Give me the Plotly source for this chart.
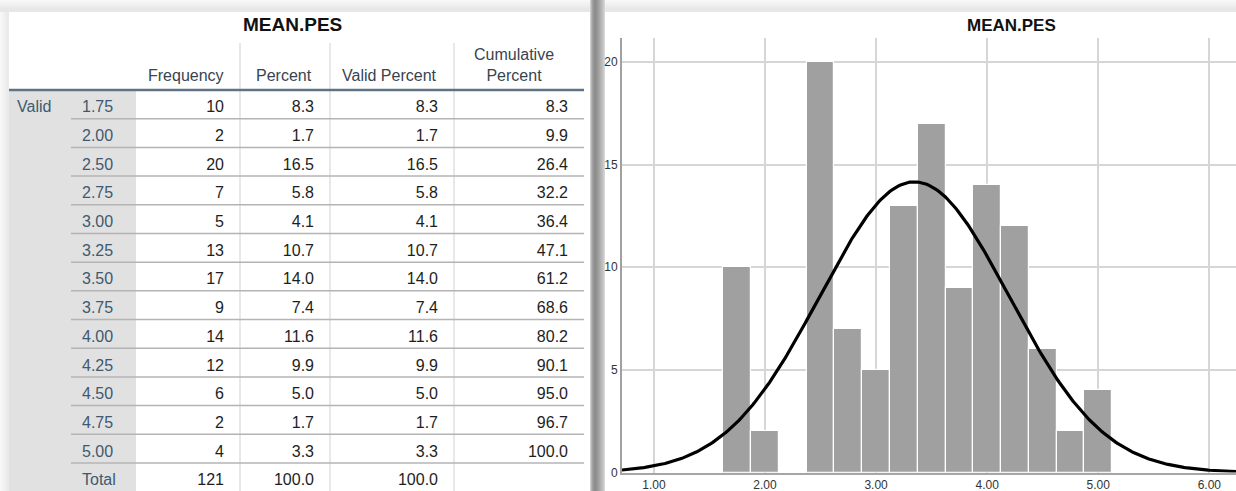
import numpy as np
import plotly.graph_objects as go

# ---- MEAN.PES frequency data ----
values = [1.75, 2.00, 2.50, 2.75, 3.00, 3.25, 3.50, 3.75, 4.00, 4.25, 4.50, 4.75, 5.00]
value_labels = ["1.75", "2.00", "2.50", "2.75", "3.00", "3.25", "3.50", "3.75",
                "4.00", "4.25", "4.50", "4.75", "5.00"]
frequency = [10, 2, 20, 7, 5, 13, 17, 9, 14, 12, 6, 2, 4]
percent = [8.3, 1.7, 16.5, 5.8, 4.1, 10.7, 14.0, 7.4, 11.6, 9.9, 5.0, 1.7, 3.3]
valid_percent = [8.3, 1.7, 16.5, 5.8, 4.1, 10.7, 14.0, 7.4, 11.6, 9.9, 5.0, 1.7, 3.3]
cumulative_percent = [8.3, 9.9, 26.4, 32.2, 36.4, 47.1, 61.2, 68.6, 80.2, 90.1, 95.0, 96.7, 100.0]
total_frequency = 121
total_percent = 100.0
total_valid_percent = 100.0
header_labels = ["Frequency", "Percent", "Valid Percent", "Cumulative<br>Percent"]
x_tick_values = [1, 2, 3, 4, 5, 6]
x_tick_labels = ["1.00", "2.00", "3.00", "4.00", "5.00", "6.00"]
y_tick_values = [0, 5, 10, 15, 20]
title = "MEAN.PES"
bin_width = 0.25

# ---- page geometry (pixels) ----
W, H = 1236, 491
FONT = "Arial, Liberation Sans, sans-serif"
HEADER_Y = 90.0      # pixel row of the header rule
ROW_H = 28.69        # table row height
TEXT_DY = 4 / ROW_H  # nudge so cell text sits centred in its row


def r_of(ypix):
    """table row coordinate for a pixel row"""
    return (ypix - HEADER_Y) / ROW_H - 0.5


shapes = []


def rect(x0, y0, x1, y1, color):
    shapes.append(dict(type="rect", xref="paper", yref="paper",
                       x0=x0 / W, x1=x1 / W, y0=1 - y1 / H, y1=1 - y0 / H,
                       fillcolor=color, line=dict(width=0), layer="below"))


def grey(v):
    return f"rgb({v},{v},{v})"


# soft window shadows
for i, v in enumerate([248, 246, 244, 242, 240, 238, 236, 234, 232, 231, 230, 232]):
    rect(0, i, W, i + 1, grey(v))
for i, v in enumerate([248, 246, 244, 242, 240, 238, 236, 234, 234]):
    rect(i, 12, i + 1, H, grey(v))
# table card and chart card
rect(9, 12, 590, H, "white")
rect(605, 12, W, H, "white")
# divider between the two cards
for i, v in enumerate([206, 182, 162, 150, 144, 142, 146, 152, 160, 168, 176, 184, 192, 202, 214]):
    rect(590 + i, 0, 591 + i, H, grey(v))

fig = go.Figure()

# ================= frequency table (x2 / y2, pixel x, row y) =================
rows = list(range(len(values)))
total_row = len(values)
all_rows = rows + [total_row]
bottom_r = r_of(H)

# grey label column
fig.add_trace(go.Scatter(
    x=[9, 136, 136, 9, 9], y=[-0.5, -0.5, bottom_r, bottom_r, -0.5],
    fill="toself", fillcolor="#e1e1e1", mode="lines", line=dict(width=0),
    xaxis="x2", yaxis="y2", hoverinfo="skip", showlegend=False))

# vertical column rules
col_rules = [240, 330, 454]
vx, vy = [], []
for cx in col_rules:
    vx += [cx, cx, None]
    vy += [r_of(43), bottom_r, None]
fig.add_trace(go.Scatter(x=vx, y=vy, mode="lines", line=dict(color="#dcdcdc", width=1.3),
                         xaxis="x2", yaxis="y2", hoverinfo="skip", showlegend=False))

# horizontal row rules
hx, hy = [], []
for r in rows:
    hx += [71, 584, None]
    hy += [r + 0.5, r + 0.5, None]
fig.add_trace(go.Scatter(x=hx, y=hy, mode="lines", line=dict(color="#b4b4b4", width=1.5),
                         xaxis="x2", yaxis="y2", hoverinfo="skip", showlegend=False))

# header rule
fig.add_trace(go.Scatter(x=[9, 584], y=[-0.5, -0.5], mode="lines",
                         line=dict(color="#5f7385", width=2.6),
                         xaxis="x2", yaxis="y2", hoverinfo="skip", showlegend=False))

cell_font = dict(family=FONT, size=16, color="#1e1e1e")
label_font = dict(family=FONT, size=16, color="#40596e")


def text_col(xpos, texts, ys, pos, font):
    fig.add_trace(go.Scatter(
        x=[xpos] * len(texts), y=[y + TEXT_DY for y in ys], text=texts, mode="text",
        textposition=pos, textfont=font, xaxis="x2", yaxis="y2",
        hoverinfo="skip", showlegend=False))


# row labels
text_col(82, value_labels + ["Total"], all_rows, "middle right", label_font)
text_col(17, ["Valid"], [0], "middle right", label_font)

# numeric columns, right aligned
col_right = [240, 330, 454, 584]
text_col(col_right[0] - 16, [str(v) for v in frequency] + [str(total_frequency)],
         all_rows, "middle left", cell_font)
text_col(col_right[1] - 16, [f"{v:.1f}" for v in percent] + [f"{total_percent:.1f}"],
         all_rows, "middle left", cell_font)
text_col(col_right[2] - 16,
         [f"{v:.1f}" for v in valid_percent] + [f"{total_valid_percent:.1f}"],
         all_rows, "middle left", cell_font)
text_col(col_right[3] - 16, [f"{v:.1f}" for v in cumulative_percent],
         rows, "middle left", cell_font)

annotations = []
header_centers = [186, 284, 389, 514]
for cx, lab in zip(header_centers, header_labels):
    annotations.append(dict(x=cx, y=r_of(86), xref="x2", yref="y2", text=lab,
                            showarrow=False, xanchor="center", yanchor="bottom",
                            font=dict(family=FONT, size=16, color="#38444f")))
annotations.append(dict(x=292, y=r_of(24), xref="x2", yref="y2", text=f"<b>{title}</b>",
                        showarrow=False, xanchor="center", yanchor="middle",
                        font=dict(family=FONT, size=19, color="#111111")))

# ================= histogram (x / y) =================
fig.add_trace(go.Bar(
    x=values, y=frequency, width=bin_width,
    marker=dict(color="#a0a0a0", line=dict(color="white", width=1.2)),
    hoverinfo="x+y", showlegend=False))

# normal curve from the sample mean and standard deviation
vals = np.array(values)
freq = np.array(frequency)
n = freq.sum()
mean = (vals * freq).sum() / n
sd = np.sqrt(((vals - mean) ** 2 * freq).sum() / (n - 1))
x_lo, x_hi = 0.713, 6.24
xs = np.linspace(x_lo, x_hi, 400)
ys = n * bin_width * np.exp(-0.5 * ((xs - mean) / sd) ** 2) / (sd * np.sqrt(2 * np.pi))
fig.add_trace(go.Scatter(x=xs, y=ys, mode="lines", line=dict(color="black", width=3.2),
                         hoverinfo="skip", showlegend=False))

annotations.append(dict(x=1011 / W, y=1 - 25 / H, xref="paper", yref="paper",
                        text=f"<b>{title}</b>", showarrow=False,
                        xanchor="center", yanchor="middle",
                        font=dict(family=FONT, size=17, color="#111111")))

grid = "#d6d6d6"
fig.update_layout(
    width=W, height=H,
    margin=dict(l=0, r=0, t=0, b=0, autoexpand=False),
    paper_bgcolor=grey(246),
    plot_bgcolor="rgba(0,0,0,0)",
    bargap=0,
    shapes=shapes,
    annotations=annotations,
    xaxis=dict(domain=[622 / W, 1], range=[x_lo, x_hi], tickvals=x_tick_values,
               ticktext=x_tick_labels, showgrid=True, gridcolor=grid, gridwidth=1.5,
               zeroline=False, showline=True, linecolor="#a6a6a6", linewidth=1.5,
               ticks="", tickfont=dict(family=FONT, size=12, color="#333333"),
               automargin=False, fixedrange=True),
    yaxis=dict(domain=[1 - 472.5 / H, 1 - 38 / H], range=[0, 21.17], tickvals=y_tick_values,
               showgrid=True, gridcolor=grid, gridwidth=1.5, zeroline=False,
               showline=True, linecolor="#a0a0a0", linewidth=2, ticks="",
               tickfont=dict(family=FONT, size=12, color="#333333"),
               automargin=False, fixedrange=True),
    xaxis2=dict(domain=[0, 1], range=[0, W], visible=False, fixedrange=True,
                anchor="y2", automargin=False),
    yaxis2=dict(domain=[0, 1], range=[r_of(H), r_of(0)], visible=False,
                fixedrange=True, anchor="x2", automargin=False),
)

fig.write_html("out.html")
